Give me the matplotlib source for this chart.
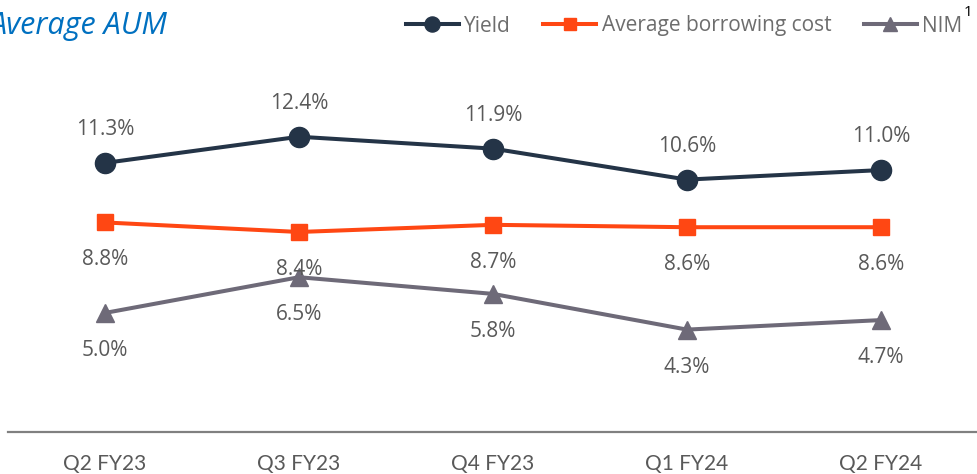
import matplotlib
matplotlib.use("Agg")
import matplotlib.pyplot as plt

### data ###
quarters = ["Q2 FY23", "Q3 FY23", "Q4 FY23", "Q1 FY24", "Q2 FY24"]
yield_pct = [11.3, 12.4, 11.9, 10.6, 11.0]
borrow_pct = [8.8, 8.4, 8.7, 8.6, 8.6]
nim_pct = [5.0, 6.5, 5.8, 4.3, 4.7]

### styles ###
c_yield = "#243447"
c_borrow = "#FF4713"
c_nim = "#6E6A78"
c_text = "#595959"
font = "Open Sans"

fig = plt.figure(figsize=(9.77, 4.74), dpi=100)
ax = fig.add_axes([8 / 977, 42 / 474, 970 / 977, 1 - 42 / 474 - 51 / 474])

x = list(range(len(quarters)))
l1, = ax.plot(x, yield_pct, "-o", color=c_yield, lw=2.9, ms=14.5, label="Yield")
l2, = ax.plot(x, borrow_pct, "-s", color=c_borrow, lw=2.9, ms=11.5, label="Average borrowing cost")
l3, = ax.plot(x, nim_pct, "-^", color=c_nim, lw=2.9, ms=13, label="NIM")

### data labels ###
for xi, v in zip(x, yield_pct):
    ax.annotate(f"{v:.1f}%", (xi, v), xytext=(0, 24), textcoords="offset points",
                ha="center", va="center", fontsize=15, color=c_text, family=font)
for xi, v in zip(x, borrow_pct):
    ax.annotate(f"{v:.1f}%", (xi, v), xytext=(0, -27), textcoords="offset points",
                ha="center", va="center", fontsize=15, color=c_text, family=font)
for xi, v in zip(x, nim_pct):
    ax.annotate(f"{v:.1f}%", (xi, v), xytext=(0, -27), textcoords="offset points",
                ha="center", va="center", fontsize=15, color=c_text, family=font)

### axes ###
ax.set_xlim(-0.5, 4.5)
ax.set_ylim(0, 16)
ax.set_xticks(x)
ax.set_xticklabels(quarters, fontsize=15, color=c_text, family="Lato")
ax.tick_params(axis="x", length=0, pad=16)
ax.set_yticks([])
for s in ["top", "left", "right"]:
    ax.spines[s].set_visible(False)
ax.spines["bottom"].set_color("#808080")
ax.spines["bottom"].set_linewidth(1.6)

### legend ###
leg = fig.legend(handles=[l1, l2, l3], loc="center right",
                 bbox_to_anchor=(962 / 977, 1 - 26 / 474), ncol=3, frameon=False,
                 borderpad=0, borderaxespad=0, handlelength=2.55, handletextpad=0.25,
                 columnspacing=1.55, markerscale=0.75, prop={"family": font, "size": 15})
for t in leg.get_texts():
    t.set_color("#6d6d6d")
fig.text(968 / 977, 1 - 13 / 474, "1", fontsize=11, color="black", family=font,
         ha="center", va="center")

### title ###
fig.text(-10 / 977, 1 - 26 / 474, "Average AUM", fontsize=22, style="italic",
         color="#0070C0", family=font, ha="left", va="center")

plt.savefig("out.png", dpi=100)
